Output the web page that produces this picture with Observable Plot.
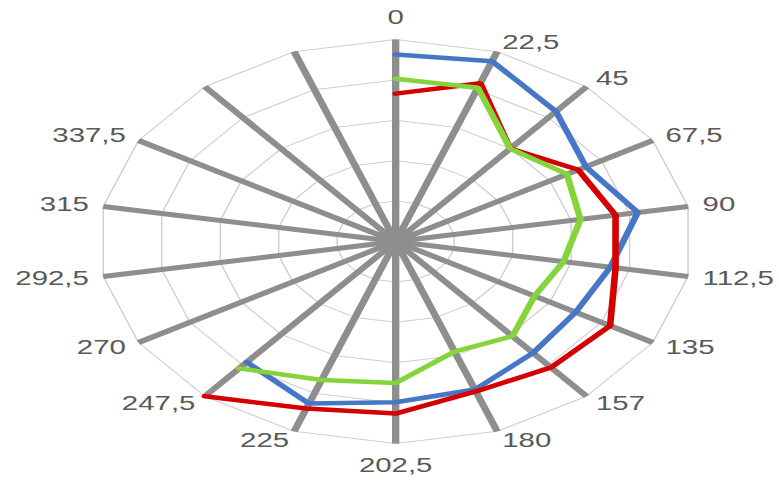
<!DOCTYPE html>
<html><head><meta charset="utf-8">
<script src="https://cdn.jsdelivr.net/npm/d3@7"></script>
<script src="https://cdn.jsdelivr.net/npm/@observablehq/plot@0.6"></script>
<style>html,body{margin:0;padding:0;background:#fff;overflow:hidden}</style>
</head><body><div id="chart"></div>
<script>
// Category labels (18 spokes, last two unlabeled)
const categories = ["0","22,5","45","67,5","90","112,5","135","157","180","202,5","225","247,5","270","292,5","315","337,5","",""];
// Series values (radial units, 0..5)
const serie1 = [4.63,4.75,4.2,3.7,4.14,3.67,3.5,3.6,3.9,3.98,4.27,3.9,null,null,null,null,null,null];
const serie2 = [3.66,4.17,3.0,3.55,3.76,3.76,4.17,4.07,3.95,4.26,4.4,5.0,null,null,null,null,null,null];
const serie3 = [4.03,4.05,3.0,3.33,3.16,2.87,2.7,3.06,2.9,3.5,3.65,4.1,null,null,null,null,null,null];
const rings = [1,2,3,4,5];
const seriesNames = ["Série 1","Série 2","Série 3"];
const seriesColors = ["#4677c6","#d40000","#86d43c"];

const N = categories.length;
const RMAX = 5;
const ang = i => i * 2 * Math.PI / N;
const px = (i, v) => v * Math.sin(ang(i));
const py = (i, v) => v * Math.cos(ang(i));

const W0 = 530, H = 481, cx = 268.7, cy = 241, unit = 40.4;

const gridPts = rings.flatMap(r => d3.range(N + 1).map(k => ({r, i: k % N})));
const idx = d3.range(N);
const seriesData = [serie1, serie2, serie3].flatMap((vals, s) =>
  vals.map((v, i) => ({s: seriesNames[s], i, v})).filter(d => d.v != null));

const gap = 10 / unit;
const lab = idx.map(i => {
  const s = Math.sin(ang(i)), c = Math.cos(ang(i));
  const side = s > 0.01 ? "right" : s < -0.01 ? "left" : "mid";
  let x = s * (RMAX + gap), y = c * (RMAX + gap);
  if (side === "mid") { x = 0; y = c * (RMAX + 22 / unit); }
  return {i, text: categories[i], side, x, y};
}).filter(d => d.text !== "");

const textStyle = {fontSize: 20, fill: "#5a5a5a", fontFamily: "Liberation Sans, Arial, sans-serif", lineAnchor: "middle"};

const svg = Plot.plot({
  width: W0, height: H,
  marginTop: 0, marginRight: 0, marginBottom: 0, marginLeft: 0,
  x: {domain: [-cx / unit, (W0 - cx) / unit], axis: null},
  y: {domain: [-(H - cy) / unit, cy / unit], axis: null},
  color: {domain: seriesNames, range: seriesColors},
  marks: [
    Plot.line(gridPts, {x: d => px(d.i, d.r), y: d => py(d.i, d.r), z: "r", stroke: "#cfcfcf", strokeWidth: 1}),
    Plot.link(idx, {x1: 0, y1: 0, x2: i => px(i, RMAX), y2: i => py(i, RMAX), stroke: "#8e8e8e", strokeWidth: 5, strokeLinecap: "butt"}),
    Plot.line(seriesData, {x: d => px(d.i, d.v), y: d => py(d.i, d.v), z: "s", stroke: "s", strokeWidth: 4.5, strokeLinejoin: "miter"}),
    Plot.text(lab.filter(d => d.side === "right"), {x: "x", y: "y", text: "text", textAnchor: "start", ...textStyle}),
    Plot.text(lab.filter(d => d.side === "left"), {x: "x", y: "y", text: "text", textAnchor: "end", ...textStyle}),
    Plot.text(lab.filter(d => d.side === "mid"), {x: "x", y: "y", text: "text", textAnchor: "middle", ...textStyle})
  ]
});
// The reference is horizontally stretched: stretch the whole SVG to the window width.
svg.setAttribute("width", 779);
svg.setAttribute("height", H);
svg.setAttribute("preserveAspectRatio", "none");
svg.setAttribute("style", "display:block;background:#fff;width:779px;height:481px;max-width:none;");
document.getElementById("chart").appendChild(svg);
</script>
</body></html>
